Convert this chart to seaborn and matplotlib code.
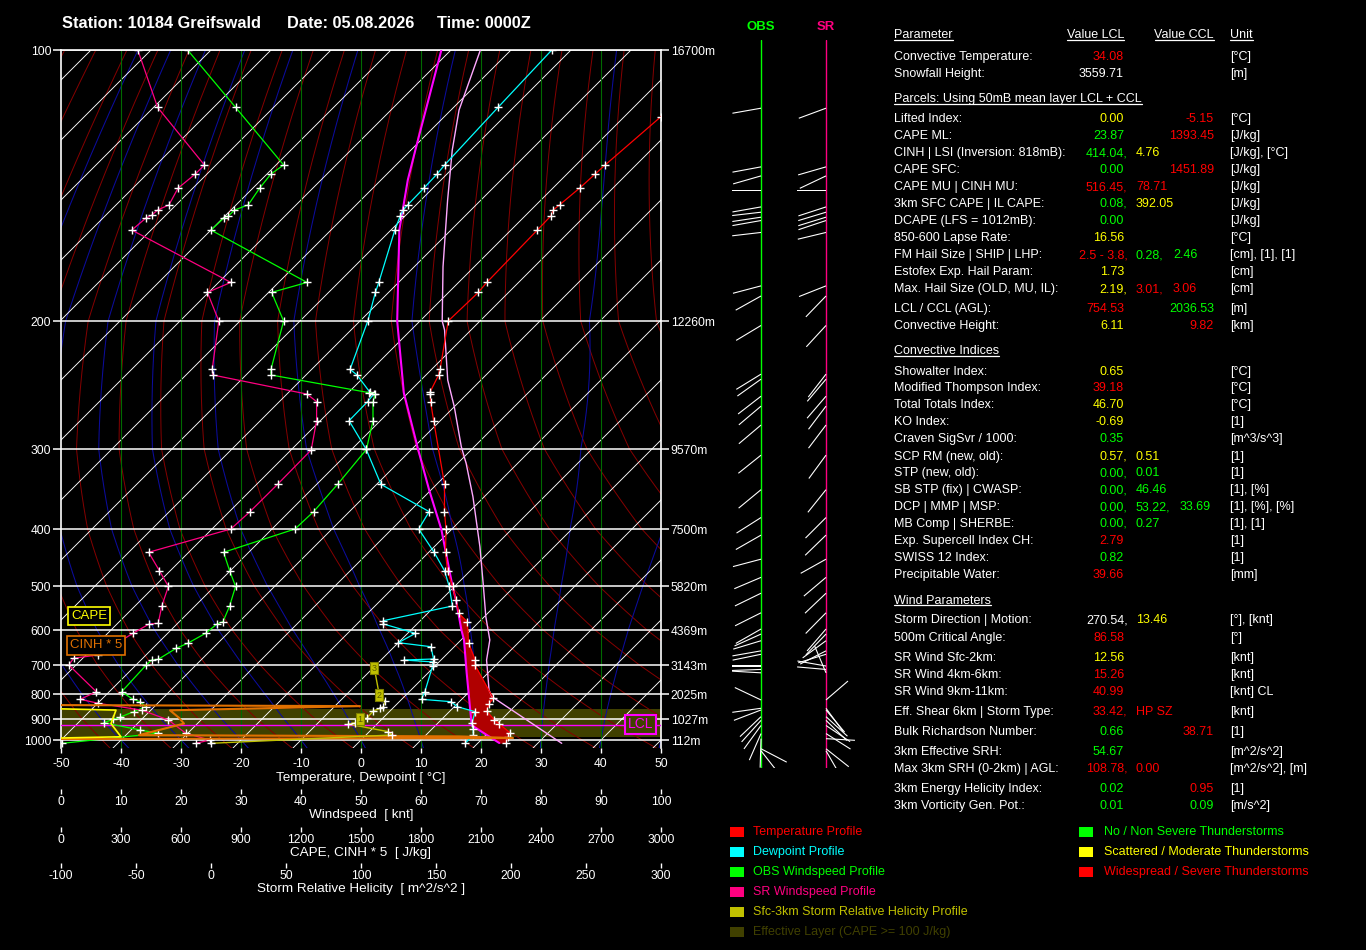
import numpy as np
import matplotlib
matplotlib.use("Agg")
import matplotlib.pyplot as plt
import seaborn as sns
from matplotlib.lines import Line2D
from matplotlib.patches import Rectangle

# ------------------------------------------------------------------ data
STATION = "Station: 10184 Greifswald"
DATE = "Date: 05.08.2026"
TIME = "Time: 0000Z"

P_LEVELS = [100, 200, 300, 400, 500, 600, 700, 800, 900, 1000]
HEIGHT_LABELS = ["16700m", "12260m", "9570m", "7500m", "5820m",
                 "4369m", "3143m", "2025m", "1027m", "112m"]

TEMP_P = [100, 118.6, 134.2, 137.3, 142.4, 148.6, 150.6, 152.9, 158.5, 181.2,
          185.9, 200, 233.1, 237.3, 250.3, 252.1, 258.2, 274.3, 340.6, 375.8,
          400, 438.2, 470.9, 500.8, 529.9, 560, 579.8, 634.5, 684.8, 700,
          816.4, 838.7, 866.7, 904.5, 922.9, 964, 983.5, 1013]
TEMP_C = [-52.5, -53.9, -55.15, -55.3, -55.55, -56.1, -56.3, -55.7, -55.6, -55.3,
          -55.05, -55.3, -48.6, -47.9, -46.5, -46.1, -44.8, -41.1, -28.7, -24.15,
          -21.0, -17.2, -13.8, -10.35, -7.5, -4.8, -2.0, 1.7, 5.7, 6.5,
          15.1, 15.3, 16.1, 18.9, 20.4, 23.6, 24.0, 24.6]

DEW_P = [100, 115.8, 134.2, 137.3, 142.4, 148.6, 150.6, 152.9, 158.5, 181.2,
         185.9, 200, 233.1, 237.3, 250.3, 252.1, 258.2, 274.3, 300.5, 340.6,
         375.8, 400, 438.2, 470.9, 500.8, 543.2, 577.3, 585.2, 608.8, 634.5,
         645.8, 681.7, 684.8, 690.7, 703.2, 791.9, 820.2, 829.5, 849.3, 869.5,
         919.6, 947.7, 975.3, 1016.7]
DEW_C = [-83.2, -82.6, -81.9, -81.65, -81.5, -81.4, -81.3, -80.8, -79.35, -73.3,
         -72.2, -68.7, -63.6, -61.5, -56.6, -55.5, -55.3, -55.2, -47.55, -39.3,
         -26.7, -25.55, -19.1, -14.3, -10.9, -7.1, -16.15, -15.6, -8.7, -10.0,
         -3.9, -1.4, -6.2, -1.0, -0.4, 2.6, 3.3, 8.6, 10.5, 14.3,
         15.7, 16.9, 17.9, 17.9]

PARCEL_P = [100, 129.2, 139.4, 158.5, 200, 251.2, 300, 347.7, 400.7, 500.8,
            529.9, 600, 627.0, 726.3, 849.3, 928.9, 1015.2]
PARCEL_C = [-101.6, -89.25, -85.55, -78.6, -63.8, -50.7, -39.0, -30.3, -21.7, -10.35,
            -7.5, -1.6, 0.5, 6.45, 12.6, 16.0, 23.55]

CCL_P = [100, 116.6, 129.2, 146.8, 174.1, 200, 205.8, 241.1, 262.4, 297.9,
         315.8, 356.1, 428.7, 500.8, 567.8, 627.0, 684.8, 785.3, 810.2, 1016.7]
CCL_C = [-95.1, -88.65, -83.1, -75.55, -65.2, -56.3, -54.4, -45.55, -40.0, -32.15,
         -28.6, -21.9, -12.4, -5.2, 0.25, 4.8, 7.6, 13.0, 14.6, 34.0]

OBS_P = [100, 115.8, 134.2, 137.3, 142.4, 148.6, 150.6, 152.9, 153.8, 158.5,
         181.2, 185.9, 200, 233.1, 237.3, 251.0, 252.1, 258.2, 274.3, 300.5,
         340.6, 375.8, 400, 438.2, 470.9, 500.8, 543.2, 579.8, 585.2, 608.8,
         636.2, 650.3, 682.7, 684.8, 700, 791.9, 820.2, 829.5, 849.3, 869.5,
         892.8, 901.4, 916.8, 951.1, 966.9, 1016.7]
OBS_KT = [21.1, 29.1, 37.1, 35.0, 33.1, 31.2, 28.9, 27.9, 27.1, 25.0,
          41.0, 35.1, 37.1, 35.0, 35.0, 51.4, 52.4, 52.0, 52.0, 50.9,
          46.1, 42.1, 39.0, 27.1, 28.1, 29.1, 28.1, 27.0, 26.0, 24.1,
          21.1, 19.2, 16.2, 15.1, 14.2, 10.1, 12.0, 13.2, 14.1, 12.1,
          9.8, 8.7, 7.1, 13.2, 16.2, 0.2]

SR_P = [100, 115.8, 134.2, 137.3, 142.4, 148.6, 150.6, 152.6, 153.8, 158.5,
        181.2, 185.9, 200, 233.1, 237.3, 252.1, 258.2, 274.3, 301.0, 340.6,
        375.8, 400, 438.2, 470.9, 500.8, 543.2, 583.6, 585.2, 608.8, 669.8,
        679.6, 700, 791.9, 820.2, 835.8, 863.4, 904.5, 966.9, 1000, 1016.7]
SR_KT = [12.8, 16.1, 23.9, 22.4, 19.5, 18.0, 16.1, 15.1, 14.1, 11.8,
         28.3, 24.4, 26.3, 25.2, 25.3, 41.0, 42.6, 42.6, 41.7, 36.1,
         31.5, 28.3, 14.6, 16.4, 17.9, 16.8, 16.2, 14.7, 12.0, 6.1,
         2.1, 1.3, 5.9, 3.2, 6.2, 13.5, 17.9, 20.8, 24.8, 22.5]

SRH_P = [710.7, 803.8, 826.8, 849.3, 855.8, 866.7, 897.0, 901.4, 916.8, 922.9,
         959.2, 975.3, 1016.7]
SRH_V = [108.9, 112.2, 116.0, 114.9, 112.7, 108.2, 103.8, 99.3, 96.0, 91.5,
         118.2, 120.5, 0.0]
SRH_KM_LABELS = {0: "3", 1: "2", 7: "1"}

CAPE_P = [858, 863, 921, 984, 990]
CAPE_V = [0, 275, 250, 300, 0]
CIN5_P = [843, 847, 864, 895, 921, 976, 982, 990, 995]
CIN5_V = [0, 1495, 545, 590, 615, 390, 1990, 2260, 0]

EFF_LAYER = (858.6, 983.5)
LCL_P = 928.9

BARB_P = [115.8, 134.3, 137.4, 142.4, 148.6, 150.6, 152.5, 153.8, 158.5, 181.4,
          186.1, 200.6, 233.6, 237.3, 250.3, 258.2, 273.9, 301.1, 340.4, 375.8,
          400, 439, 471, 500.8, 542.6, 579.8, 591.9, 608.8, 636.2, 645.8,
          679.6, 689.8, 700, 791.9, 823, 829.5, 855.8, 870.7, 891.6, 927.5,
          951.1, 1000, 1010]
OBS_DIR = [260, 259.5, 254, 270, 260, 263.4, 261.4, 260, 263.4, 255.2,
           240.8, 239, 238.4, 234.5, 232.2, 229.8, 229.8, 231.3, 230.5, 237.6,
           240.2, 255.2, 247, 244, 243.4, 240.2, 245.8, 253.2, 260, 258.4,
           270, 268, 273.3, 295.4, 262, 249, 226.5, 222, 216, 203.7,
           181.7, 117.5, 141.9]
SR_DIR = [249.7, 253.9, 244.6, 270, 252, 253.2, 252.9, 251.6, 256.5, 248.4,
          224, 222.7, 217.7, 220.2, 220.7, 217.1, 217.1, 216.3, 218.7, 225,
          225.9, 240.8, 229.8, 226.4, 224.5, 220.7, 224, 233.7, 242.9, 253,
          280, 275, 337, 49.3, 143.7, 140, 132.3, 134, 123.8, 122.3,
          93.3, 128.3, 150]

R, G, Y, WT = "#ff0000", "#00ff00", "#ffff00", "#ffffff"
TABLE_HEADERS = [(35.0, "Parameter", "lab"), (35.0, "Value LCL", "v1h"),
                 (35.0, "Value CCL", "cclh"), (35.0, "Unit", "unit"),
                 (99.3, "Parcels: Using 50mB mean layer LCL + CCL", "lab"),
                 (351.0, "Convective Indices", "lab"),
                 (600.7, "Wind Parameters", "lab")]
TABLE_ROWS = [
    (57.3, "Convective Temperature:", [("34.08", R, "v1")], "[°C]"),
    (74.0, "Snowfall Height:", [("3559.71", WT, "v1")], "[m]"),
    (119.0, "Lifted Index:", [("0.00", Y, "v1"), ("-5.15", R, "ccl")], "[°C]"),
    (136.3, "CAPE ML:", [("23.87", G, "v1"), ("1393.45", R, "ccl")], "[J/kg]"),
    (153.3, "CINH | LSI (Inversion: 818mB):", [("414.04,", G, "v1c"), ("4.76", Y, "v2")], "[J/kg], [°C]"),
    (170.0, "CAPE SFC:", [("0.00", G, "v1"), ("1451.89", R, "ccl")], "[J/kg]"),
    (187.0, "CAPE MU | CINH MU:", [("516.45,", R, "v1c"), ("78.71", R, "v2")], "[J/kg]"),
    (204.0, "3km SFC CAPE | IL CAPE:", [("0.08,", G, "v1c"), ("392.05", Y, "v2")], "[J/kg]"),
    (221.0, "DCAPE (LFS = 1012mB):", [("0.00", G, "v1")], "[J/kg]"),
    (238.3, "850-600 Lapse Rate:", [("16.56", Y, "v1")], "[°C]"),
    (255.3, "FM Hail Size | SHIP | LHP:", [("2.5 - 3.8,", R, "v1c"), ("0.28,", G, "v2"), ("2.46", G, "v3")], "[cm], [1], [1]"),
    (272.3, "Estofex Exp. Hail Param:", [("1.73", Y, "v1")], "[cm]"),
    (289.3, "Max. Hail Size (OLD, MU, IL):", [("2.19,", Y, "v1c"), ("3.01,", R, "v2"), ("3.06", R, "v3")], "[cm]"),
    (309.3, "LCL / CCL (AGL):", [("754.53", R, "v1"), ("2036.53", G, "ccl")], "[m]"),
    (326.3, "Convective Height:", [("6.11", Y, "v1"), ("9.82", R, "ccl")], "[km]"),
    (371.7, "Showalter Index:", [("0.65", Y, "v1")], "[°C]"),
    (388.3, "Modified Thompson Index:", [("39.18", R, "v1")], "[°C]"),
    (405.0, "Total Totals Index:", [("46.70", Y, "v1")], "[°C]"),
    (422.0, "KO Index:", [("-0.69", Y, "v1")], "[1]"),
    (439.0, "Craven SigSvr / 1000:", [("0.35", G, "v1")], "[m^3/s^3]"),
    (456.7, "SCP RM (new, old):", [("0.57,", Y, "v1c"), ("0.51", Y, "v2")], "[1]"),
    (473.3, "STP (new, old):", [("0.00,", G, "v1c"), ("0.01", G, "v2")], "[1]"),
    (490.3, "SB STP (fix) | CWASP:", [("0.00,", G, "v1c"), ("46.46", G, "v2")], "[1], [%]"),
    (507.0, "DCP | MMP | MSP:", [("0.00,", G, "v1c"), ("53.22,", G, "v2"), ("33.69", G, "v3b")], "[1], [%], [%]"),
    (524.0, "MB Comp | SHERBE:", [("0.00,", G, "v1c"), ("0.27", G, "v2")], "[1], [1]"),
    (541.3, "Exp. Supercell Index CH:", [("2.79", R, "v1")], "[1]"),
    (558.3, "SWISS 12 Index:", [("0.82", G, "v1")], "[1]"),
    (575.3, "Precipitable Water:", [("39.66", R, "v1")], "[mm]"),
    (620.3, "Storm Direction | Motion:", [("270.54,", WT, "v1c"), ("13.46", Y, "v2")], "[°], [knt]"),
    (637.7, "500m Critical Angle:", [("86.58", R, "v1")], "[°]"),
    (657.7, "SR Wind Sfc-2km:", [("12.56", Y, "v1")], "[knt]"),
    (674.7, "SR Wind 4km-6km:", [("15.26", R, "v1")], "[knt]"),
    (691.7, "SR Wind 9km-11km:", [("40.99", R, "v1")], "[knt] CL"),
    (711.7, "Eff. Shear 6km | Storm Type:", [("33.42,", R, "v1c"), ("HP SZ", R, "v2")], "[knt]"),
    (731.7, "Bulk Richardson Number:", [("0.66", G, "v1"), ("38.71", R, "ccl")], "[1]"),
    (751.7, "3km Effective SRH:", [("54.67", G, "v1")], "[m^2/s^2]"),
    (768.7, "Max 3km SRH (0-2km) | AGL:", [("108.78,", R, "v1c"), ("0.00", R, "v2")], "[m^2/s^2], [m]"),
    (788.7, "3km Energy Helicity Index:", [("0.02", G, "v1"), ("0.95", R, "ccl")], "[1]"),
    (805.7, "3km Vorticity Gen. Pot.:", [("0.01", G, "v1"), ("0.09", G, "ccl")], "[m/s^2]"),
]

LEGEND_LEFT = [("Temperature Profile", "#ff0000"), ("Dewpoint Profile", "#00ffff"),
               ("OBS Windspeed Profile", "#00ff00"), ("SR Windspeed Profile", "#ff0080"),
               ("Sfc-3km Storm Relative Helicity Profile", "#c0c000"),
               ("Effective Layer (CAPE >= 100 J/kg)", "#404000")]
LEGEND_RIGHT = [("No / Non Severe Thunderstorms", "#00ff00"),
                ("Scattered / Moderate Thunderstorms", "#ffff00"),
                ("Widespread / Severe Thunderstorms", "#ff0000")]

# ------------------------------------------------------------------ style
sns.set_theme(style="dark")
plt.rcParams.update({
    "figure.facecolor": "black", "axes.facecolor": "black", "savefig.facecolor": "black",
    "text.color": "white", "axes.labelcolor": "white", "xtick.color": "white",
    "ytick.color": "white", "axes.grid": False, "axes.unicode_minus": False,
})
plt.rcParams["font.family"] = ["Liberation Sans", "DejaVu Sans"]

W, H = 1366, 950
fig = plt.figure(figsize=(W / 100, H / 100), dpi=100)


def fpos(x0, y0, x1, y1):
    return [x0 / W, 1 - y1 / H, (x1 - x0) / W, (y1 - y0) / H]


def ftxt(x, y, s, **kw):
    return fig.text(x / W, 1 - y / H, s, **kw)


# pressure axis of the diagram: pixel row of each pressure level
P_ANCH = np.array([50, 100, 200, 300, 400, 500, 600, 700, 800, 900, 1000, 1100], float)
Y_ANCH = np.array([-221, 50, 321, 449, 529, 586, 630, 665, 694, 719, 740, 759], float)
LOGP = np.log(P_ANCH)


def fwd(p):
    p = np.clip(np.asarray(p, float), 1e-6, None)
    return np.interp(np.log(p), LOGP, Y_ANCH)


def inv(y):
    return np.exp(np.interp(np.asarray(y, float), Y_ANCH, LOGP))


P_TOP = 100.0
P_BOT = float(inv(748.0))
PX_PER_DEG = 6.0


def skew(T, p):
    return np.asarray(T, float) + (fwd(1000.0) - fwd(p)) / PX_PER_DEG


def setup_pressure(a, lo=None, hi=None):
    a.set_yscale("function", functions=(fwd, inv))
    a.set_ylim(P_BOT if lo is None else lo, P_TOP if hi is None else hi)


# ------------------------------------------------------------------ main diagram
ax = fig.add_axes(fpos(61, 50, 661, 748))
setup_pressure(ax)
ax.set_xlim(-50, 50)

pg = np.geomspace(95, 1045, 400)
# dry adiabats
for theta in range(190, 480, 10):
    T = theta * (pg / 1000.0) ** 0.2857 - 273.15
    ax.plot(skew(T, pg), pg, color="#860000", lw=0.7, zorder=1.5)


# moist adiabats
def dTdp(T, p):
    Tc = T - 273.15
    es = 6.112 * np.exp(17.67 * Tc / (Tc + 243.5))
    rs = 0.622 * es / (p - es)
    return (287.04 * T + 2.501e6 * rs) / (1005.7 + 2.501e6 ** 2 * rs * 0.622 / (287.04 * T * T)) / p


for t0 in range(-40, 60, 10):
    pu = np.linspace(1000, 95, 906)
    Tu = [t0 + 273.15]
    for i in range(len(pu) - 1):
        dp = pu[i + 1] - pu[i]
        k1 = dTdp(Tu[-1], pu[i])
        k2 = dTdp(Tu[-1] + k1 * dp, pu[i + 1])
        Tu.append(Tu[-1] + 0.5 * (k1 + k2) * dp)
    pd_ = np.linspace(1000, 1045, 46)
    Td_ = [t0 + 273.15]
    for i in range(len(pd_) - 1):
        dp = pd_[i + 1] - pd_[i]
        Td_.append(Td_[-1] + dTdp(Td_[-1], pd_[i]) * dp)
    pp = np.concatenate([pd_[::-1], pu[1:]])
    tt = np.concatenate([np.array(Td_[::-1]), np.array(Tu[1:])]) - 273.15
    ax.plot(skew(tt, pp), pp, color="#0c0c9c", lw=0.75, zorder=1.6)

# isotherms
for t0 in range(-170, 60, 10):
    ax.plot(skew([t0, t0], [P_BOT, P_TOP]), [P_BOT, P_TOP], color="white", lw=0.65, zorder=2)

for xv in range(-40, 50, 10):
    ax.axvline(xv, color="#006a00", lw=0.8, zorder=2)

ax.axhspan(EFF_LAYER[0], EFF_LAYER[1], color="#404000", lw=0, zorder=1)
for p in P_LEVELS:
    ax.axhline(p, color="white", lw=1.1, zorder=3)
ax.axhline(LCL_P, color="#ff00ff", lw=1.0, zorder=3.5)

# red area between parcel and environment
pf = np.geomspace(540, 1016, 400)
yf = fwd(pf)
x_par = np.interp(yf, fwd(PARCEL_P), skew(PARCEL_C, PARCEL_P))
x_env = np.interp(yf, fwd(TEMP_P), skew(TEMP_C, TEMP_P))
ax.fill_betweenx(pf, x_par, x_env, where=x_env > x_par, color="#b00000", lw=0, zorder=4)

ax.plot(skew(CCL_C, CCL_P), CCL_P, color="#ffa8ff", lw=1.0, zorder=5)
ax.plot(skew(PARCEL_C, PARCEL_P), PARCEL_P, color="#ff00ff", lw=1.5, zorder=5)

mk = dict(marker="+", ms=6, mec="white", mew=1.0)
sns.lineplot(x=skew(DEW_C, DEW_P), y=np.array(DEW_P), sort=False, estimator=None,
             color="#00ffff", lw=0.9, ax=ax, zorder=6, **mk)
sns.lineplot(x=skew(TEMP_C, TEMP_P), y=np.array(TEMP_P), sort=False, estimator=None,
             color="#ff0000", lw=0.9, ax=ax, zorder=6, **mk)

for s in ["left", "right", "top"]:
    ax.spines[s].set_color("white")
    ax.spines[s].set_linewidth(1.2)
ax.spines["bottom"].set_visible(False)
TICK_FS = 8.7
ax.set_xticks(range(-50, 51, 10))
ax.set_xticklabels([str(v) for v in range(-50, 51, 10)])
ax.tick_params(axis="x", colors="white", length=3.5, width=1, pad=3.5, labelsize=TICK_FS, direction="out")
ax.set_yticks(P_LEVELS)
ax.set_yticklabels([str(p) for p in P_LEVELS])
ax.tick_params(axis="y", colors="white", length=6, width=1.1, pad=1, labelsize=TICK_FS, direction="out")
ax.set_xlabel("Temperature, Dewpoint [ °C]", fontsize=9.7, color="white", labelpad=2)
ax.set_ylabel("")

axr = ax.twinx()
setup_pressure(axr)
axr.set_yticks(P_LEVELS)
axr.set_yticklabels(HEIGHT_LABELS)
axr.tick_params(axis="y", colors="white", length=6, width=1.1, pad=1, labelsize=TICK_FS, direction="out")
for s in axr.spines.values():
    s.set_visible(False)


def make_scale_axis(xlim, offset_px, label):
    a = ax.twiny()
    a.set_xlim(*xlim)
    a.xaxis.set_ticks_position("bottom")
    a.xaxis.set_label_position("bottom")
    for s in a.spines.values():
        s.set_visible(False)
    a.spines["bottom"].set_position(("outward", offset_px * 0.72))
    a.tick_params(axis="x", colors="white", length=3.5, width=1, pad=1.5, labelsize=TICK_FS)
    a.set_xlabel(label, fontsize=9.7, color="white", labelpad=1)
    return a


axw = make_scale_axis((0, 100), 41, "Windspeed  [ knt]")
axw.set_xticks(range(0, 101, 10))
axc = make_scale_axis((0, 3000), 79, "CAPE, CINH * 5  [ J/kg]")
axc.set_xticks(range(0, 3001, 300))
axs = make_scale_axis((-100, 300), 115, "Storm Relative Helicity  [ m^2/s^2 ]")
axs.set_xticks(range(-100, 301, 50))

sns.lineplot(x=np.array(OBS_KT), y=np.array(OBS_P), sort=False, estimator=None,
             color="#00ff00", lw=0.9, ax=axw, zorder=6, **mk)
sns.lineplot(x=np.array(SR_KT), y=np.array(SR_P), sort=False, estimator=None,
             color="#ff0080", lw=0.9, ax=axw, zorder=6, **mk)
axc.plot(CIN5_V, CIN5_P, color="#e07000", lw=1.5, zorder=5)
axc.plot(CAPE_V, CAPE_P, color="#ffff00", lw=1.2, zorder=5)
axs.plot(SRH_V, SRH_P, color="#c0c000", lw=1.0, zorder=6, **mk)
for i, lab in SRH_KM_LABELS.items():
    axs.text(SRH_V[i], SRH_P[i], lab, fontsize=6.5, color="#5a5a00", ha="center", va="center",
             zorder=8, bbox=dict(boxstyle="square,pad=0.15", fc="#c0c000", ec="#808000", lw=0.8))

for a in (ax, axr, axw, axc, axs):
    a.set_ylim(P_BOT, P_TOP)
    a.set_ylabel("")
axw.set_xlim(0, 100)
axc.set_xlim(0, 3000)
axs.set_xlim(-100, 300)
ax.set_xlim(-50, 50)

# boxed labels inside the diagram
ftxt(89, 616, "CAPE", color="#ffff00", fontsize=9.5, ha="center", va="center",
     bbox=dict(boxstyle="square,pad=0.25", fc="black", ec="#ffff00", lw=1.2))
ftxt(96, 645.5, "CINH * 5", color="#e07000", fontsize=9.5, ha="center", va="center",
     bbox=dict(boxstyle="square,pad=0.25", fc="black", ec="#e07000", lw=1.2))
ftxt(640.5, 724.5, "LCL", color="#ff00ff", fontsize=10, ha="center", va="center", zorder=10,
     bbox=dict(boxstyle="square,pad=0.2", fc="#404000", ec="#ff00ff", lw=1.5))

# ------------------------------------------------------------------ title
TFS = 11.8
ftxt(62, 23, STATION, fontsize=TFS, fontweight="bold", va="center")
ftxt(287, 23, DATE, fontsize=TFS, fontweight="bold", va="center")
ftxt(437, 23, TIME, fontsize=TFS, fontweight="bold", va="center")

# ------------------------------------------------------------------ wind columns
axb = fig.add_axes(fpos(720, 40, 860, 768))
setup_pressure(axb, float(inv(768)), float(inv(40)))
axb.set_xlim(720, 860)
axb.axis("off")
axb.axvline(761, color="#00ff00", lw=1.0)
axb.axvline(826, color="#ff0080", lw=1.0)
BL = 29.0
for xpole, dirs in ((761.0, OBS_DIR), (826.0, SR_DIR)):
    rad = np.radians(np.array(dirs, float))
    axb.quiver(np.full(len(dirs), xpole), np.array(BARB_P, float), BL * np.sin(rad), BL * np.cos(rad),
               angles="uv", scale_units="dots", scale=1, units="dots", width=1.1,
               headwidth=0, headlength=0, headaxislength=0, pivot="tail", color="white", zorder=5)
ftxt(761, 27, "OBS", color="#00ff00", fontsize=9.5, fontweight="bold", ha="center", va="center")
ftxt(826, 27, "SR", color="#ff0080", fontsize=9.5, fontweight="bold", ha="center", va="center")

# ------------------------------------------------------------------ table
FS = 9.0
XPOS = {"lab": 894, "v1": 1124, "v1c": 1127.5, "v2": 1136, "v3": 1173, "v3b": 1180,
        "ccl": 1214, "unit": 1230, "v1h": 1124, "cclh": 1214}
underlined = []
for y, text, slot in TABLE_HEADERS:
    ha = "right" if slot in ("v1h", "cclh") else "left"
    underlined.append(ftxt(XPOS[slot], y, text, fontsize=FS, color="white", ha=ha, va="center"))
for y, label, vals, unit in TABLE_ROWS:
    ftxt(XPOS["lab"], y, label, fontsize=FS, color="white", va="center")
    for val, col, slot in vals:
        ha = "right" if slot in ("v1", "v1c", "ccl") else "left"
        ftxt(XPOS[slot], y, val, fontsize=FS, color=col, ha=ha, va="center")
    ftxt(XPOS["unit"], y, unit, fontsize=FS, color="white", va="center")

# ------------------------------------------------------------------ legend
for i, (lab, col) in enumerate(LEGEND_LEFT):
    yc = 831.7 + 20 * i
    fig.add_artist(Rectangle((730 / W, 1 - (yc + 5) / H), 14 / W, 10 / H, transform=fig.transFigure,
                             color=col, lw=0))
    ftxt(753.5, yc, lab, fontsize=FS, color=col, va="center")
for i, (lab, col) in enumerate(LEGEND_RIGHT):
    yc = 831.7 + 20 * i
    fig.add_artist(Rectangle((1079 / W, 1 - (yc + 5) / H), 14 / W, 10 / H, transform=fig.transFigure,
                             color=col, lw=0))
    ftxt(1103.5, yc, lab, fontsize=FS, color=col, va="center")

# underline headers
fig.canvas.draw()
rend = fig.canvas.get_renderer()
for t in underlined:
    bb = t.get_window_extent(rend)
    yb = bb.y0 + 1.5
    fig.add_artist(Line2D([bb.x0 / W, bb.x1 / W], [yb / H, yb / H], transform=fig.transFigure,
                          color="white", lw=0.9))

fig.savefig("out.png", dpi=100, facecolor="black")
